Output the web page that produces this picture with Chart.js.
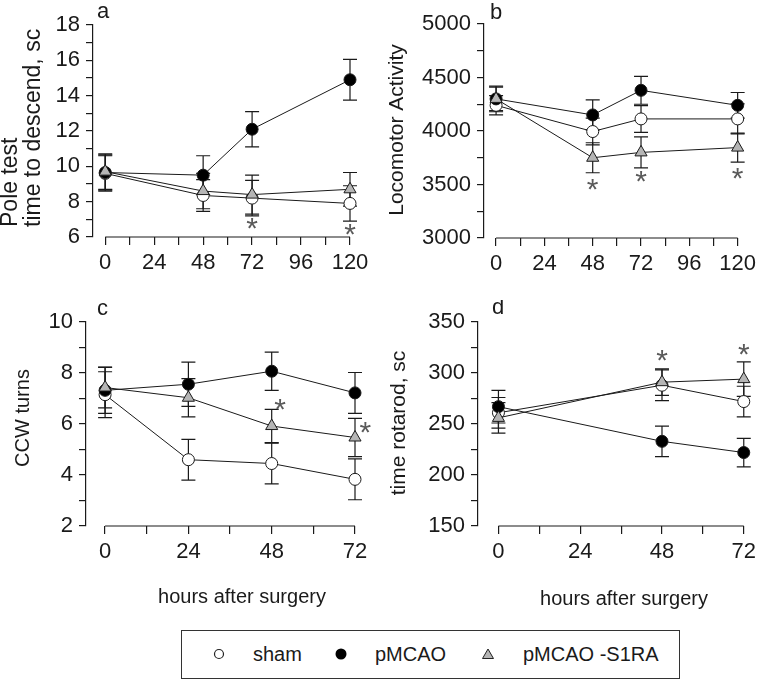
<!DOCTYPE html>
<html>
<head>
<meta charset="utf-8">
<script src="https://cdn.jsdelivr.net/npm/chart.js@4.4.1/dist/chart.umd.min.js"></script>
<style>
  body { margin: 0; background: #fff; width: 761px; height: 680px; position: relative; overflow: hidden; font-family: "Liberation Sans", Arial, sans-serif; }
  canvas { position: absolute; }
  #legend { position: absolute; left: 181px; top: 630px; width: 497px; height: 47px; border: 1.5px solid #333; }
  #legend span { position: absolute; top: 12px; font-size: 20px; color: #1a1a1a; line-height: 22px; }
  #legend svg { position: absolute; top: 16px; }
</style>
</head>
<body>
<canvas id="pa" width="380" height="300" style="left:0;top:0"></canvas>
<canvas id="pb" width="381" height="300" style="left:380px;top:0"></canvas>
<canvas id="pc" width="380" height="325" style="left:0;top:300px"></canvas>
<canvas id="pd" width="381" height="325" style="left:380px;top:300px"></canvas>

<div id="legend">
  <svg width="14" height="14" style="left:30px"><circle cx="7" cy="7" r="4.5" fill="#fff" stroke="#222" stroke-width="1.2"/></svg>
  <span style="left:71px">sham</span>
  <svg width="14" height="14" style="left:152px"><circle cx="7" cy="7" r="5.5" fill="#000"/></svg>
  <span style="left:193px">pMCAO</span>
  <svg width="14" height="14" style="left:299px"><polygon points="7,2 12.5,11.5 1.5,11.5" fill="#b5b5b5" stroke="#222" stroke-width="1"/></svg>
  <span style="left:341px">pMCAO -S1RA</span>
</div>

<script>
Chart.defaults.font.family = "'Liberation Sans', Arial, sans-serif";
Chart.defaults.color = "#1a1a1a";

// hours after surgery
const hoursA = [0, 48, 72, 120];
const hoursB = [0, 48, 72, 120];
const hoursC = [0, 24, 48, 72];
const hoursD = [0, 48, 72];

// a: pole test, time to descend (s)
const poleSham = [9.6, 8.35, 8.2, 7.9];
const poleShamErr = [1.0, 0.9, 1.0, 1.0];
const polePmcao = [9.65, 9.5, 12.1, 14.9];
const polePmcaoErr = [1.0, 1.1, 1.0, 1.15];
const poleS1ra = [9.7, 8.6, 8.4, 8.7];
const poleS1raErr = [1.0, 1.0, 1.1, 0.95];
const poleStarX = [72, 120];
const poleStarY = [6.75, 6.4];

// b: locomotor activity
const locoSham = [4240, 3995, 4113, 4113];
const locoShamErr = [90, 125, 125, 140];
const locoPmcao = [4300, 4150, 4380, 4240];
const locoPmcaoErr = [120, 140, 130, 120];
const locoS1ra = [4300, 3750, 3800, 3845];
const locoS1raErr = [110, 140, 145, 135];
const locoStarX = [48, 72, 120];
const locoStarY = [3500, 3575, 3605];

// c: CCW turns
const ccwSham = [7.15, 4.6, 4.45, 3.83];
const ccwShamErr = [0.9, 0.8, 0.8, 0.8];
const ccwPmcao = [7.32, 7.56, 8.07, 7.22];
const ccwPmcaoErr = [0.9, 0.87, 0.75, 0.8];
const ccwS1ra = [7.43, 7.03, 5.92, 5.47];
const ccwS1raErr = [0.8, 0.75, 0.65, 0.75];
const ccwStarX = [50.4, 75];
const ccwStarY = [6.75, 5.85];

// d: time on rotarod (s)
const rotaSham = [261, 288, 272];
const rotaShamErr = [15, 15, 15];
const rotaPmcao = [267, 233, 222];
const rotaPmcaoErr = [16, 15, 14];
const rotaS1ra = [256, 291, 294];
const rotaS1raErr = [15, 13, 17];
const rotaStarX = [48, 72];
const rotaStarY = [317, 323];

const seriesNames = ["sham", "pMCAO", "pMCAO -S1RA"];

const INK = "#1a1a1a";

// extra drawing per panel (letters, titles, stars), local canvas coords
const decor = {
  pa: {
    letter: "a", letterX: 97, letterY: 18,
    yTitle: [{ text: "Pole test", x: 11 }, { text: "time to descend, sc", x: 34 }], yTitleStart: 227, yTitleSize: 23,
    starX: poleStarX, starY: poleStarY,
  },
  pb: {
    letter: "b", letterX: 110, letterY: 19,
    yTitleCenter: { text: "Locomotor Activity", x: 17, y: 130, size: 21 },
    starX: locoStarX, starY: locoStarY,
  },
  pc: {
    letter: "c", letterX: 97, letterY: 15,
    yTitleCenter: { text: "CCW turns", x: 23, y: 118, size: 20 },
    xTitle: { text: "hours after surgery", x: 242, y: 297 },
    starX: ccwStarX, starY: ccwStarY,
  },
  pd: {
    letter: "d", letterX: 112, letterY: 14,
    yTitleCenter: { text: "time rotarod, sc", x: 19, y: 123, size: 21 },
    xTitle: { text: "hours after surgery", x: 244, y: 299 },
    starX: rotaStarX, starY: rotaStarY,
  },
};

const panelDecor = {
  id: "panelDecor",
  beforeDatasetsDraw(chart) {
    const ctx = chart.ctx;
    const ys = chart.scales.y;
    ctx.save();
    ctx.strokeStyle = INK;
    ctx.lineWidth = 1.2;
    chart.data.datasets.forEach((ds, i) => {
      const meta = chart.getDatasetMeta(i);
      meta.data.forEach((pt, j) => {
        const v = ds.data[j].y;
        const e = ds.errors[j];
        const top = ys.getPixelForValue(v + e);
        const bot = ys.getPixelForValue(v - e);
        ctx.beginPath();
        ctx.moveTo(pt.x, top);
        ctx.lineTo(pt.x, bot);
        ctx.moveTo(pt.x - 7, top);
        ctx.lineTo(pt.x + 7, top);
        ctx.moveTo(pt.x - 7, bot);
        ctx.lineTo(pt.x + 7, bot);
        ctx.stroke();
      });
    });
    ctx.restore();
  },
  afterDraw(chart) {
    const d = decor[chart.canvas.id];
    const ctx = chart.ctx;
    const xs = chart.scales.x;
    const ys = chart.scales.y;
    const area = chart.chartArea;
    ctx.save();
    // x axis line only over the data range
    ctx.strokeStyle = INK;
    ctx.lineWidth = 1.2;
    ctx.beginPath();
    ctx.moveTo(xs.getPixelForValue(0), area.bottom);
    ctx.lineTo(xs.getPixelForValue(xs.max), area.bottom);
    ctx.stroke();

    // significance stars
    ctx.fillStyle = "#5a5a5a";
    ctx.font = "30px 'Liberation Sans'";
    ctx.textAlign = "center";
    ctx.textBaseline = "alphabetic";
    const m = ctx.measureText("*");
    const off = (m.actualBoundingBoxAscent - m.actualBoundingBoxDescent) / 2;
    d.starX.forEach((sx, k) => {
      ctx.fillText("*", xs.getPixelForValue(sx), ys.getPixelForValue(d.starY[k]) + off);
    });

    // panel letter
    ctx.fillStyle = INK;
    ctx.font = "22px 'Liberation Sans'";
    ctx.textAlign = "left";
    ctx.fillText(d.letter, d.letterX, d.letterY);

    // y title(s)
    ctx.textBaseline = "middle";
    if (d.yTitle) {
      ctx.font = d.yTitleSize + "px 'Liberation Sans'";
      d.yTitle.forEach((t) => {
        ctx.save();
        ctx.translate(t.x, d.yTitleStart);
        ctx.rotate(-Math.PI / 2);
        ctx.textAlign = "left";
        ctx.fillText(t.text, 0, 0);
        ctx.restore();
      });
    }
    if (d.yTitleCenter) {
      const t = d.yTitleCenter;
      ctx.font = t.size + "px 'Liberation Sans'";
      ctx.save();
      ctx.translate(t.x, t.y);
      ctx.rotate(-Math.PI / 2);
      ctx.textAlign = "center";
      ctx.fillText(t.text, 0, 0);
      ctx.restore();
    }
    if (d.xTitle) {
      ctx.font = "20px 'Liberation Sans'";
      ctx.textAlign = "center";
      ctx.fillText(d.xTitle.text, d.xTitle.x, d.xTitle.y);
    }
    ctx.restore();
  },
};

function series(label, xs, ys, errs, style, fill, order, radius) {
  return {
    label: label,
    data: xs.map((x, i) => ({ x: x, y: ys[i] })),
    errors: errs,
    order: order,
    borderColor: INK,
    borderWidth: 1,
    pointStyle: style,
    pointRadius: radius,
    pointBackgroundColor: fill,
    pointBorderColor: INK,
    pointBorderWidth: 1,
    clip: false,
    tension: 0,
  };
}

function panel(id, p) {
  return new Chart(document.getElementById(id), {
    type: "line",
    data: {
      datasets: [
        series(seriesNames[0], p.hours, p.sham, p.shamErr, "circle", "#fff", 2, 6),
        series(seriesNames[1], p.hours, p.pmcao, p.pmcaoErr, "circle", "#000", 1, 6),
        series(seriesNames[2], p.hours, p.s1ra, p.s1raErr, "triangle", "#b5b5b5", 0, 7),
      ],
    },
    options: {
      responsive: false,
      devicePixelRatio: 1,
      animation: false,
      events: [],
      layout: { padding: { left: 0, top: p.top, right: p.right, bottom: 0 } },
      plugins: { legend: { display: false }, tooltip: { enabled: false } },
      scales: {
        x: {
          type: "linear",
          min: p.xMin,
          max: p.xMax,
          afterFit: (s) => { s.height = p.xHeight; },
          grid: { drawOnChartArea: false, tickLength: 8, color: INK, lineWidth: 1.2 },
          border: { display: false },
          ticks: {
            stepSize: 12,
            includeBounds: false,
            autoSkip: false,
            maxRotation: 0,
            padding: 5,
            font: { size: 22 },
            color: INK,
            callback: (v) => (v % 24 === 0 ? String(v) : ""),
          },
          afterBuildTicks: (s) => { s.ticks = s.ticks.filter((t) => t.value >= 0); },
        },
        y: {
          min: p.yMin,
          max: p.yMax,
          afterFit: (s) => { s.width = p.yWidth; },
          grid: { drawOnChartArea: false, tickLength: 7, color: INK, lineWidth: 1.2 },
          border: { display: true, color: INK, width: 1.2 },
          ticks: {
            stepSize: p.yStep,
            autoSkip: false,
            padding: 6,
            font: { size: 22 },
            color: INK,
            callback: (v) => (v % p.yLabelEvery === 0 ? String(v) : ""),
          },
        },
      },
    },
    plugins: [panelDecor],
  });
}

panel("pa", {
  hours: hoursA, sham: poleSham, shamErr: poleShamErr, pmcao: polePmcao, pmcaoErr: polePmcaoErr,
  s1ra: poleS1ra, s1raErr: poleS1raErr,
  xMin: -6, xMax: 120, yMin: 6, yMax: 18, yStep: 1, yLabelEvery: 2,
  top: 25, right: 30, yWidth: 93, xHeight: 63,
});

panel("pb", {
  hours: hoursB, sham: locoSham, shamErr: locoShamErr, pmcao: locoPmcao, pmcaoErr: locoPmcaoErr,
  s1ra: locoS1ra, s1raErr: locoS1raErr,
  xMin: -6, xMax: 120, yMin: 3000, yMax: 5000, yStep: 250, yLabelEvery: 500,
  top: 24, right: 18, yWidth: 104, xHeight: 62,
});

panel("pc", {
  hours: hoursC, sham: ccwSham, shamErr: ccwShamErr, pmcao: ccwPmcao, pmcaoErr: ccwPmcaoErr,
  s1ra: ccwS1ra, s1raErr: ccwS1raErr,
  xMin: -5.5, xMax: 72, yMin: 2, yMax: 10, yStep: 1, yLabelEvery: 2,
  top: 22, right: 25, yWidth: 86, xHeight: 99,
});

panel("pd", {
  hours: hoursD, sham: rotaSham, shamErr: rotaShamErr, pmcao: rotaPmcao, pmcaoErr: rotaPmcaoErr,
  s1ra: rotaS1ra, s1raErr: rotaS1raErr,
  xMin: -6, xMax: 72, yMin: 150, yMax: 350, yStep: 25, yLabelEvery: 50,
  top: 22, right: 17, yWidth: 98, xHeight: 99,
});
</script>
</body>
</html>
